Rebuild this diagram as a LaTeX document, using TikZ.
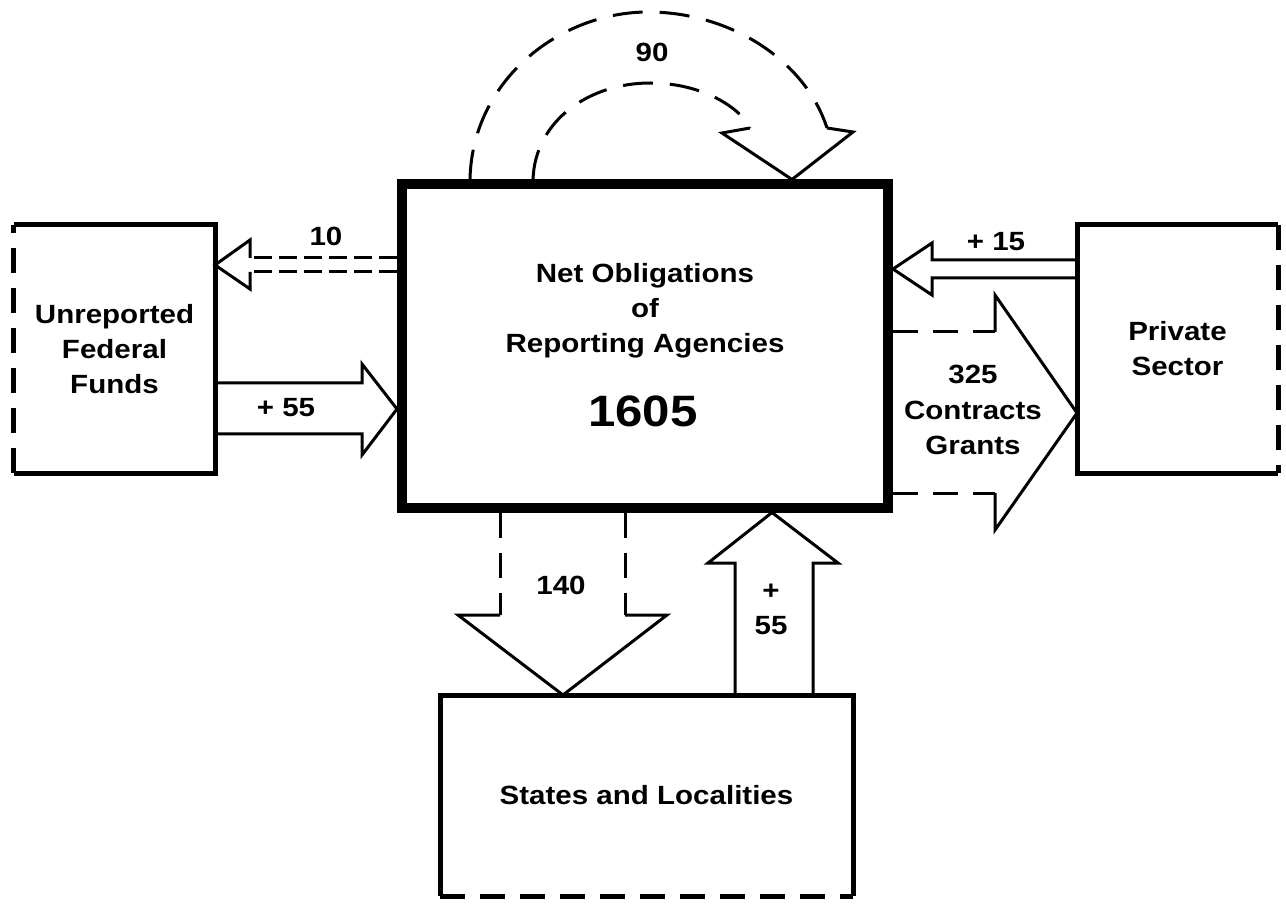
\documentclass[tikz,border=0pt]{standalone}
\usepackage{fontspec}
\setmainfont{Liberation Sans}[FakeStretch=1.12]

\begin{document}
\begin{tikzpicture}[x=0.2mm,y=-0.2mm,
  lbl/.style={font=\fontsize{15}{20}\selectfont\bfseries,align=center,inner sep=0pt},
  side/.style={lbl,minimum width=40.2mm,minimum height=49.6mm,outer sep=0pt},
  main/.style={draw,line width=2mm,minimum width=97.2mm,minimum height=64.6mm,inner sep=0pt},
  rim/.style={line width=1mm},
  flow/.style={line width=0.6mm,line join=miter},
  gaps/.style={dash pattern=on 5mm off 3mm}]

\useasboundingbox (0,0) rectangle (1286,905);

% Boxes
\node[main] (agency) at (645,346) {};
\node[side] (unrep) at (114.5,349) {Unreported\\Federal\\Funds};
\node[side] (pvt) at (1177.5,349) {Private\\Sector};
\node[side,minimum width=82.6mm,minimum height=40.2mm] (states) at (646.5,795.5) {States and Localities};

% Box outlines, one side dashed
\draw[rim] (unrep.north west) -- (unrep.north east) -- (unrep.south east) -- (unrep.south west);
\draw[rim,gaps] (unrep.south west) -- (unrep.north west);
\draw[rim] (pvt.north east) -- (pvt.north west) -- (pvt.south west) -- (pvt.south east);
\draw[rim,gaps] (pvt.north east) -- (pvt.south east);
\draw[rim] (states.south west) -- (states.north west) -- (states.north east) -- (states.south east);
\draw[rim,gaps] (states.south west) -- (states.south east);

% Text in the main box
\node[lbl] (title) at (645,311) {Net Obligations\\of\\Reporting Agencies};
\node[lbl,font=\fontsize{25}{30}\selectfont\bfseries] (total) at (643,411) {1605};

% 10 back to unreported funds
\draw[flow] (250,258) -- (250,240) -- (unrep.east |- 0,265) -- (250,289) -- (250,272);
\draw[flow,dash pattern=on 3.6mm off 1.4mm] (agency.west |- 0,258) -- (250,258);
\draw[flow,dash pattern=on 3.6mm off 1.4mm] (agency.west |- 0,272) -- (250,272);
\node[lbl] (ten) at (326,236) {10};

% +55 from unreported funds
\draw[flow] (unrep.east |- 0,383) -- (362,383) -- (362,364) -- (agency.west |- 0,409)
  -- (362,455) -- (362,434) -- (unrep.east |- 0,434);
\node[lbl] (plusa) at (286,408) {+ 55};

% +15 from private sector
\draw[flow] (pvt.west |- 0,260) -- (932,260) -- (932,243) -- (agency.east |- 0,269)
  -- (932,295) -- (932,278) -- (pvt.west |- 0,278);
\node[lbl] (plusb) at (996,242) {+ 15};

% contracts and grants
\draw[flow,gaps] (agency.east |- 0,332) -- (995,332);
\draw[flow,gaps] (agency.east |- 0,493) -- (995,493);
\draw[flow] (995,332) -- (995,295) -- (pvt.west |- 0,413) -- (995,530) -- (995,493);
\node[lbl] (grants) at (973,410) {325\\Contracts\\Grants};

% 140 down to states
\draw[flow,gaps] (500,0 |- agency.south) -- (500,615);
\draw[flow,gaps] (625,0 |- agency.south) -- (625,615);
\draw[flow] (500,615) -- (458,615) -- (states.north -| 563,0) -- (667,615) -- (625,615);
\node[lbl] (down) at (561,585) {140};

% +55 up from states
\draw[flow] (735,0 |- states.north) -- (735,563) -- (708,563) -- (772,0 |- agency.south)
  -- (838,563) -- (813,563) -- (813,0 |- states.north);
\node[lbl] (plusc) at (771,609) {+\\55};

% 90 loop over the top
\draw[flow,dash pattern=on 6mm off 3.4mm] (470,0 |- agency.north) .. controls (472,80) and (560,12) .. (648,12)
  .. controls (730,12) and (805,60) .. (827,128);
\draw[flow,dash pattern=on 6mm off 3.4mm] (533,0 |- agency.north) .. controls (535,120) and (590,83) .. (650,83)
  .. controls (705,83) and (742,110) .. (750,128);
\draw[flow] (750,128) -- (722,133) -- (792,0 |- agency.north) -- (853,132) -- (827,128);
\node[lbl] (loop) at (652,52) {90};

\end{tikzpicture}
\end{document}
